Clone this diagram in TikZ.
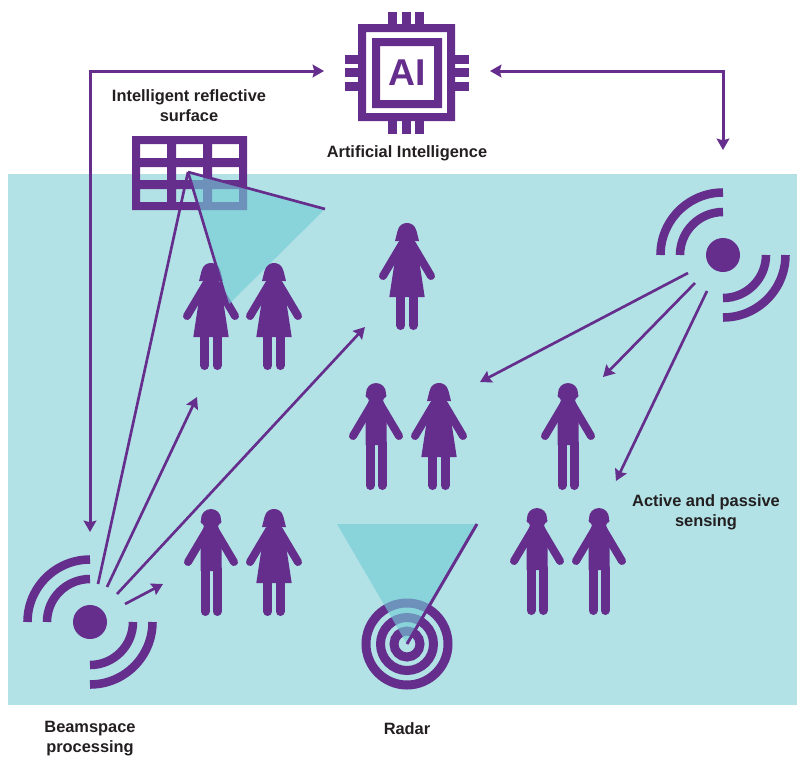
\documentclass[tikz,border=0pt]{standalone}
\usepackage{xcolor}
\usepackage{fontspec}
\setmainfont{Liberation Sans}
\usepackage{tikz}
\usetikzlibrary{arrows.meta}

\definecolor{purp}{HTML}{652D8C}
\definecolor{seabg}{HTML}{B2E2E6}
\definecolor{beamc}{HTML}{72CCD5}
\definecolor{inkc}{HTML}{231F20}

\tikzset{
  tip/.tip={Stealth[length=8.5pt,width=9.5pt,inset=1.2pt]},
  lbl/.style={inner sep=0.75pt,align=center,text=inkc,font=\fontsize{12.3}{14.6}\selectfont\bfseries},
  link/.style={draw=purp,line width=2.25pt,tip-tip},
  shot/.style={draw=purp,line width=2pt,-tip},
  ray/.style={draw=purp,line width=2pt},
  beam/.style={fill=beamc,fill opacity=0.63},
  limb/.style={draw=purp,line cap=round,line width=#1*0.75pt},
  every pic/.style={yscale=-1},
  man/.pic={
    \fill[purp] (0,10) circle (10) (-8,12.5) circle (2.5) (8,12.5) circle (2.5);
    \fill[purp] (-7,17) -- (7,17) -- (10.5,28) -- (10.5,62) -- (-10.5,62) -- (-10.5,28) -- cycle;
    \draw[limb=8] (-4,21) -- (-23,53) (4,21) -- (23,53);
    \draw[limb=9] (-6,60) -- (-6,102.5) (6,60) -- (6,102.5);
  },
  woman/.pic={
    \fill[purp] (-12,18) -- (-9.5,8) .. controls (-8,2) and (-4,0) .. (0,0) .. controls (4,0) and (8,2) .. (9.5,8) -- (12,18) -- cycle;
    \fill[purp] (-7,17) -- (7,17) -- (11,30) -- (17.7,74) -- (-17.7,74) -- (-11,30) -- cycle;
    \draw[limb=8] (-5,21) -- (-24,53) (5,21) -- (24,53);
    \draw[limb=9] (-6.2,70) -- (-6.2,102.5) (6.2,70) -- (6.2,102.5);
  },
  waves/.pic={
    \draw[purp,line width=6.4pt] (-62.5,0) arc (180:270:62.5) (-43,0) arc (180:270:43);
    \draw[purp,line width=6.4pt] (62.5,0) arc (0:90:62.5) (43,0) arc (0:90:43);
  }
}

\begin{document}
\begin{tikzpicture}[x=0.75pt,y=0.75pt,yscale=-1,xscale=1]
\useasboundingbox (0,0) rectangle (797,758);

%Shape: Sea
\fill[seabg] (8,174) rectangle (797,705);

%Shape: Chip
\fill[purp,even odd rule] (358,24) rectangle (455,121) (366,32) rectangle (447,113);
\fill[purp,even odd rule] (372,38) rectangle (442,108) (380,46) rectangle (434,100);
\foreach \p in {388,402,415} {
  \fill[purp] (\p,12) rectangle ++(9,12);
  \fill[purp] (\p,121) rectangle ++(9,13);
}
\foreach \p in {55,68,82} {
  \fill[purp] (345,\p) rectangle ++(13,9);
  \fill[purp] (455,\p) rectangle ++(14,9);
}
\node (chipai) [inner sep=0pt,text=purp,font=\fontsize{28}{28}\selectfont\bfseries] at (407,73) {AI};

%Shape: Reflective grid
\fill[purp,even odd rule] (132,136) rectangle (247,210)
  \foreach \a/\b in {140/167,176/203,212/239} {
    \foreach \c/\d in {144/158,167/180,189/202} { (\a,\c) rectangle (\b,\d) }
  };

%People
\pic at (211,263) {woman};
\pic at (274,263) {woman};
\pic at (407,223) {woman};
\pic at (376,383) {man};
\pic at (439,383) {woman};
\pic at (568,383) {man};
\pic at (211,509) {man};
\pic at (274,509) {woman};
\pic at (537,508) {man};
\pic at (599,508) {man};

%Shape: Radar rings
\draw[purp,line width=6.75pt] (407,644) circle (41) (407,644) circle (26.5) (407,644) circle (13);

%Beams
\coordinate (gridc) at (188,172);
\coordinate (gridr) at (325,209);
\coordinate (gridb) at (228,305);
\coordinate (radarc) at (407,644);
\coordinate (radarl) at (337,524);
\coordinate (radarr) at (477,524);
\fill[beam] (gridc) -- (gridr) -- (gridb) -- cycle;
\fill[beam] (radarc) -- (radarl) -- (radarr) -- cycle;
\draw[ray] (gridc) -- (gridr);
\draw[ray] (gridc) -- (gridb);
\draw[ray,line width=2.25pt] (radarc) -- (radarr);

%Sources
\node (srcl) [circle,fill=purp,inner sep=0pt,minimum size=25.5pt] at (90,622) {};
\node (srcr) [circle,fill=purp,inner sep=0pt,minimum size=25.5pt] at (723,255) {};
\pic at (srcl) {waves};
\pic at (srcr) {waves};

%Straight Lines
\coordinate (chipw) at (324,71);
\coordinate (chipe) at (490,71);
\coordinate (bendw) at (90,71);
\coordinate (bende) at (723,71);
\coordinate (srclt) at (90,532);
\coordinate (srcrt) at (723,150);
\draw[link] (srclt) -- (bendw) -- (chipw);
\draw[link] (chipe) -- (bende) -- (srcrt);

%Rays from the lower source
\coordinate (la) at (98,584);
\coordinate (lb) at (107,587);
\coordinate (lc) at (117,594);
\coordinate (ld) at (125,604);
\coordinate (lbe) at (197,397);
\coordinate (lce) at (365,327);
\coordinate (lde) at (163,584);
\draw[ray] (la) -- (gridc);
\draw[shot] (lb) -- (lbe);
\draw[shot] (lc) -- (lce);
\draw[shot] (ld) -- (lde);

%Rays from the upper source
\coordinate (ra) at (688,273);
\coordinate (rb) at (695,283);
\coordinate (rc) at (707,291);
\coordinate (rae) at (480,382);
\coordinate (rbe) at (603,377);
\coordinate (rce) at (616,481);
\draw[shot] (ra) -- (rae);
\draw[shot] (rb) -- (rbe);
\draw[shot] (rc) -- (rce);

% Text Node
\node (irslbl) [lbl] at (189,105.5) {Intelligent reflective\\surface};
% Text Node
\node (ailbl) [lbl] at (407,153) {Artificial Intelligence};
% Text Node
\node (senselbl) [lbl] at (706,512.5) {Active and passive\\sensing};
% Text Node
\node (beamlbl) [lbl] at (90,738.5) {Beamspace\\processing};
% Text Node
\node (radarlbl) [lbl] at (407,729) {Radar};

\end{tikzpicture}
\end{document}
